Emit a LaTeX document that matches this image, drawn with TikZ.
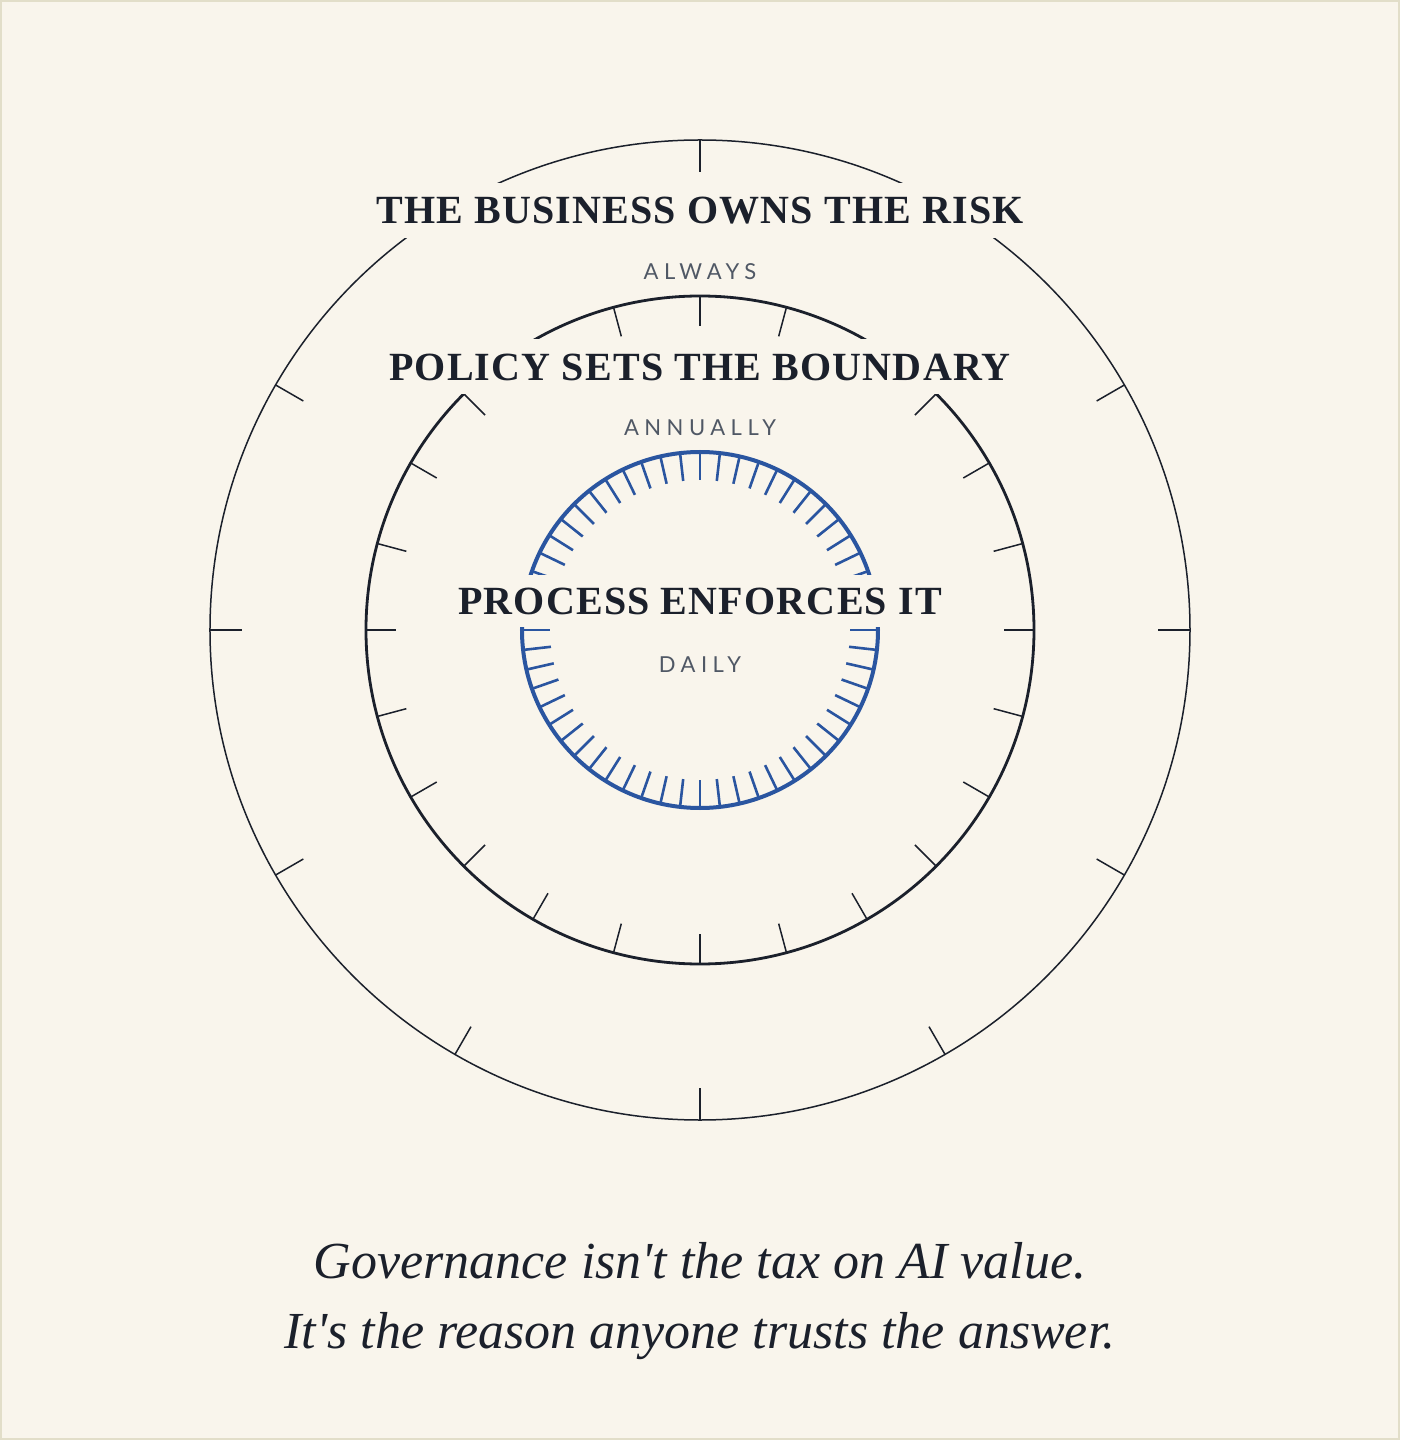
\documentclass[tikz,border=0pt]{standalone}
\usepackage{fontspec}
\setmainfont{Liberation Serif}
\newfontfamily\headfont[LetterSpace=3.0]{Liberation Serif}
\newfontfamily\cadencefont[LetterSpace=25.0]{Lato}
\usepackage{tikz}
\definecolor{paper}{HTML}{F9F5EC}
\definecolor{frame}{HTML}{E2DEC9}
\definecolor{ink}{HTML}{1B202B}
\definecolor{muted}{HTML}{505865}
\definecolor{procblue}{HTML}{2A55A0}
\tikzset{
  ringOuter/.style={draw=ink, line width=1.5pt},
  ringMid/.style={draw=ink, line width=2.8pt},
  ringIn/.style={draw=procblue, line width=4pt},
  tickOuter/.style={draw=ink, line width=1.5pt},
  tickMid/.style={draw=ink, line width=1.5pt},
  tickIn/.style={draw=procblue, line width=2.6pt},
  headline/.style={fill=paper, text=ink, inner sep=0pt, minimum height=55pt,
    font=\headfont\bfseries\fontsize{40}{48}\selectfont},
  cadence/.style={text=muted, inner sep=0pt, anchor=base,
    font=\cadencefont\fontsize{22}{26}\selectfont},
  caption/.style={text=ink, inner sep=0pt, anchor=base,
    font=\itshape\fontsize{52}{62}\selectfont}
}

\begin{document}
\begin{tikzpicture}[x=1pt,y=1pt]
% page
\fill[paper] (-700,-810) rectangle (700,630);
\draw[frame, line width=2pt] (-699,-809) rectangle (699,629);
\useasboundingbox (-700,-810) rectangle (700,630);

% outer ring: the business
\draw[ringOuter] (0,0) circle (490);
\foreach \a in {0,30,...,330}
  \draw[tickOuter] (\a:490) -- (\a:458);

% middle ring: policy
\draw[ringMid] (0,0) circle (334);
\foreach \a in {0,15,...,345}
  \draw[tickMid] (\a:334) -- (\a:304);

% inner ring: process
\draw[ringIn] (0,0) circle (178);
\foreach \i [evaluate=\i as \a using 360/56*\i] in {0,...,55}
  \draw[tickIn] (\a:178) -- (\a:150);

% labels
\node[headline] (risk) at (0,419.5) {THE BUSINESS OWNS THE RISK};
\node[cadence] (always) at (0,350) {ALWAYS};
\node[headline] (policy) at (0,263) {POLICY SETS THE BOUNDARY};
\node[cadence] (annually) at (0,194) {ANNUALLY};
\node[headline, minimum height=52pt] (process) at (0,28.5) {PROCESS ENFORCES IT};
\node[cadence] (daily) at (0,-42) {DAILY};

% caption
\node[caption] (tax) at (0,-648) {Governance isn\textquotesingle t the tax on AI value.};
\node[caption] (trust) at (0,-718) {It\textquotesingle s the reason anyone trusts the answer.};
\end{tikzpicture}
\end{document}
